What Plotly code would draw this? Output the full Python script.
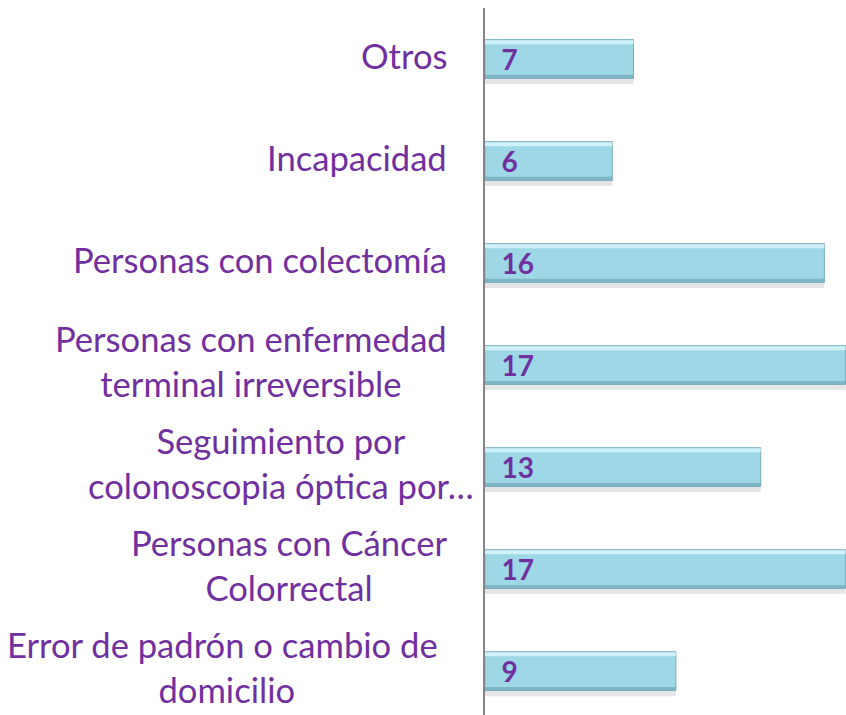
import plotly.graph_objects as go

categories = [
    "Error de padrón o cambio de\u00a0<br>domicilio",
    "Personas con Cáncer<br>Colorrectal",
    "Seguimiento por<br>colonoscopia óptica por…",
    "Personas con enfermedad<br>terminal irreversible",
    "Personas con colectomía",
    "Incapacidad",
    "Otros",
]
values = [9, 17, 13, 17, 16, 6, 7]

PURPLE = "#7030A0"
FONT = "Lato"
label_shift = [-36, -36, -9, -36, -36, -36, -36]

pos = list(range(len(categories)))

fig = go.Figure()
# soft shadow
fig.add_trace(go.Bar(
    x=values, y=pos, orientation="h", width=0.38, offset=-0.245,
    marker=dict(color="rgba(0,0,0,0.10)", line=dict(width=0)),
    hoverinfo="skip", showlegend=False,
))
# main bar
fig.add_trace(go.Bar(
    x=values, y=pos, orientation="h", width=0.38, offset=-0.19,
    marker=dict(color="#9ED8E7", line=dict(color="#78AEBC", width=1)),
    text=["\u00a0\u00a0" + str(v) for v in values],
    textposition="inside", insidetextanchor="start", constraintext="none",
    textangle=0,
    textfont=dict(family=FONT, size=28, color=PURPLE, weight="bold"),
    hoverinfo="skip", showlegend=False,
))
# top highlight (bevel)
fig.add_trace(go.Bar(
    x=values, y=pos, orientation="h", width=0.04, offset=0.145,
    marker=dict(color="rgba(220,248,253,0.8)", line=dict(width=0)),
    hoverinfo="skip", showlegend=False,
))
# bottom darker edge (bevel)
fig.add_trace(go.Bar(
    x=values, y=pos, orientation="h", width=0.03, offset=-0.185,
    marker=dict(color="rgba(100,155,170,0.55)", line=dict(width=0)),
    hoverinfo="skip", showlegend=False,
))

for p, c, s in zip(pos, categories, label_shift):
    fig.add_annotation(
        x=0, xref="paper", y=p, yref="y", text=c, showarrow=False,
        xanchor="right", yanchor="middle", align="center",
        xshift=s, yshift=4,
        font=dict(family=FONT, size=34.6, color=PURPLE),
    )

fig.update_layout(
    width=846, height=715,
    margin=dict(l=485, r=0, t=8, b=0),
    paper_bgcolor="white", plot_bgcolor="white",
    barmode="overlay",
    showlegend=False,
    xaxis=dict(range=[0, 17.02], visible=False, fixedrange=True),
    yaxis=dict(range=[-0.43, 6.5], showticklabels=False, showgrid=False,
               zeroline=False, showline=True, linecolor="#868686", linewidth=2,
               ticks="", fixedrange=True),
)

fig.write_html(
    "out.html",
    config={"displayModeBar": False},
    post_script="document.body.style.margin='0';document.body.style.overflow='hidden';",
)
